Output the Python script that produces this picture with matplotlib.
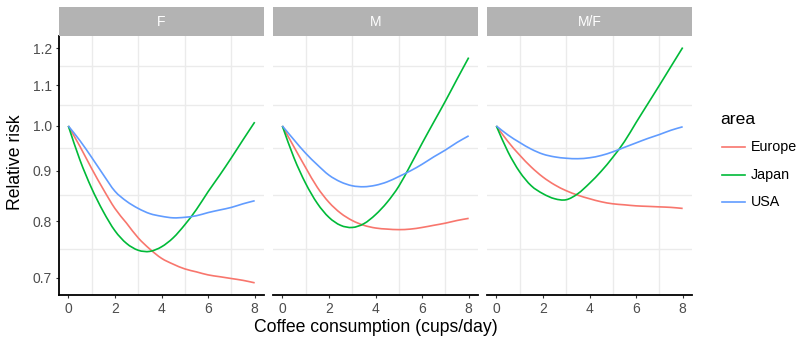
import matplotlib
matplotlib.use('Agg')
import matplotlib.pyplot as plt
from matplotlib.lines import Line2D
from matplotlib.path import Path
from matplotlib.patches import PathPatch
from matplotlib.ticker import FixedLocator, NullLocator
import numpy as np

plt.rcParams['font.family'] = ['Liberation Sans', 'DejaVu Sans']

## data: relative risk by coffee intake, per sex group and area

cups = np.arange(0, 8.5, 0.5)

sexes = ['F', 'M', 'M/F']
areas = ['Europe', 'Japan', 'USA']
area_colors = ['#F8766D', '#00BA38', '#619CFF']

rr_f_europe = [1.000, 0.953, 0.905, 0.862, 0.824, 0.796, 0.769, 0.749, 0.733,
               0.723, 0.715, 0.710, 0.705, 0.702, 0.699, 0.696, 0.692]
rr_f_japan = [1.000, 0.923, 0.864, 0.818, 0.782, 0.759, 0.747, 0.745, 0.753,
              0.769, 0.793, 0.822, 0.857, 0.891, 0.928, 0.968, 1.009]
rr_f_usa = [1.000, 0.966, 0.929, 0.892, 0.858, 0.838, 0.824, 0.814, 0.809,
            0.806, 0.807, 0.810, 0.816, 0.821, 0.826, 0.833, 0.839]

rr_m_europe = [1.000, 0.952, 0.907, 0.866, 0.836, 0.815, 0.801, 0.792, 0.787,
               0.785, 0.784, 0.785, 0.788, 0.792, 0.796, 0.801, 0.805]
rr_m_japan = [1.000, 0.928, 0.874, 0.834, 0.807, 0.792, 0.788, 0.795, 0.812,
              0.836, 0.868, 0.912, 0.960, 1.009, 1.060, 1.116, 1.174]
rr_m_usa = [1.000, 0.968, 0.938, 0.913, 0.891, 0.877, 0.869, 0.867, 0.870,
            0.877, 0.888, 0.900, 0.914, 0.930, 0.945, 0.962, 0.977]

rr_mf_europe = [1.000, 0.964, 0.934, 0.908, 0.887, 0.871, 0.859, 0.850, 0.843,
                0.837, 0.833, 0.831, 0.829, 0.828, 0.827, 0.826, 0.824]
rr_mf_japan = [1.000, 0.941, 0.898, 0.869, 0.853, 0.843, 0.841, 0.853, 0.874,
               0.899, 0.929, 0.964, 1.008, 1.053, 1.100, 1.150, 1.202]
rr_mf_usa = [1.000, 0.979, 0.962, 0.947, 0.936, 0.930, 0.927, 0.926, 0.928,
             0.933, 0.941, 0.951, 0.961, 0.971, 0.980, 0.990, 0.998]

curves = {
    'F': [rr_f_europe, rr_f_japan, rr_f_usa],
    'M': [rr_m_europe, rr_m_japan, rr_m_usa],
    'M/F': [rr_mf_europe, rr_mf_japan, rr_mf_usa],
}

y_breaks = [0.7, 0.8, 0.9, 1.0, 1.1, 1.2]
y_labels = ['0.7', '0.8', '0.9', '1.0', '1.1', '1.2']
y_minor = [0.75, 0.85, 0.95, 1.05, 1.15]
x_breaks = [0, 2, 4, 6, 8]
x_minor = [1, 3, 5, 7]


def smooth_path(x, y):
    """Catmull-Rom curve through the points, built in (x, log y) so it
    stays smooth on the log axis."""
    x = np.asarray(x, float)
    ly = np.log(np.asarray(y, float))
    px = np.concatenate([[2 * x[0] - x[1]], x, [2 * x[-1] - x[-2]]])
    py = np.concatenate([[2 * ly[0] - ly[1]], ly, [2 * ly[-1] - ly[-2]]])
    verts = [(x[0], np.exp(ly[0]))]
    codes = [Path.MOVETO]
    for k in range(1, len(px) - 2):
        c1 = (px[k] + (px[k + 1] - px[k - 1]) / 6, py[k] + (py[k + 1] - py[k - 1]) / 6)
        c2 = (px[k + 1] - (px[k + 2] - px[k]) / 6, py[k + 1] - (py[k + 2] - py[k]) / 6)
        verts += [(c1[0], np.exp(c1[1])), (c2[0], np.exp(c2[1])),
                  (px[k + 1], np.exp(py[k + 1]))]
        codes += [Path.CURVE4] * 3
    return Path(verts, codes)


## layout (pixel boxes -> figure fractions)

W, H = 799, 338
fig = plt.figure(figsize=(W / 100, H / 100), dpi=100)


def box(x0, y0, x1, y1):
    return [x0 / W, 1 - y1 / H, (x1 - x0) / W, (y1 - y0) / H]


panel_left = [59, 273, 487]
panel_w = 205
panel_top, panel_bottom = 36, 295
strip_top = 7

grid_col = '#EBEBEB'
text_col = '#4D4D4D'
tick_col = '#333333'

for i, sex in enumerate(sexes):
    x0 = panel_left[i]
    ax = fig.add_axes(box(x0, panel_top, x0 + panel_w, panel_bottom))
    ax.set_facecolor('white')

    for xm in x_minor:
        ax.axvline(xm, color=grid_col, lw=1.0, zorder=0)
    for ym in y_minor:
        ax.axhline(ym, color=grid_col, lw=1.0, zorder=0)

    for vals, col in zip(curves[sex], area_colors):
        ax.add_patch(PathPatch(smooth_path(cups, vals), fill=False,
                               edgecolor=col, lw=1.2, zorder=3))

    ax.set_yscale('log')
    ax.set_ylim(0.6725, 1.235)
    ax.set_xlim(-0.4, 8.4)

    ax.xaxis.set_major_locator(FixedLocator(x_breaks))
    ax.xaxis.set_minor_locator(NullLocator())
    ax.set_xticklabels([str(v) for v in x_breaks])
    ax.yaxis.set_minor_locator(NullLocator())

    for s in ['top', 'right']:
        ax.spines[s].set_visible(False)
    ax.spines['bottom'].set_linewidth(1.3)
    ax.spines['bottom'].set_color('black')
    ax.tick_params(axis='x', length=2.5, width=0.8, color=tick_col,
                   labelsize=10, labelcolor=text_col, pad=2.5)

    if i == 0:
        ax.spines['left'].set_linewidth(1.3)
        ax.spines['left'].set_color('black')
        ax.yaxis.set_major_locator(FixedLocator(y_breaks))
        ax.set_yticklabels(y_labels)
        ax.tick_params(axis='y', length=2.5, width=0.8, color=tick_col,
                       labelsize=10, labelcolor=text_col, pad=2.5)
    else:
        ax.spines['left'].set_visible(False)
        ax.yaxis.set_major_locator(NullLocator())
        ax.tick_params(axis='y', left=False, labelleft=False)

    # facet strip
    sax = fig.add_axes(box(x0, strip_top, x0 + panel_w, panel_top))
    sax.set_facecolor('#B3B3B3')
    sax.set_xticks([])
    sax.set_yticks([])
    for s in sax.spines.values():
        s.set_visible(False)
    sax.text(0.5, 0.5, sex, color='white', fontsize=10,
             ha='center', va='center', transform=sax.transAxes)

## axis titles

fig.text(375.5 / W, 1 - 327 / H, 'Coffee consumption (cups/day)',
         fontsize=12.7, ha='center', va='center', color='black')
fig.text(15 / W, 1 - 162 / H, 'Relative risk', fontsize=12.7, rotation=90,
         ha='center', va='center', color='black')

## legend

fig.text(720 / W, 1 - 120 / H, 'area', fontsize=12.6, ha='left', va='center')
legend_y = [147, 175, 202]
for name, col, ly in zip(areas, area_colors, legend_y):
    yy = 1 - ly / H
    fig.add_artist(Line2D([722 / W, 745 / W], [yy, yy], color=col, lw=1.2,
                          transform=fig.transFigure))
    fig.text(751 / W, yy, name, fontsize=10.3, ha='left', va='center',
             color='black')

fig.savefig('out.png', dpi=100, facecolor='white')
